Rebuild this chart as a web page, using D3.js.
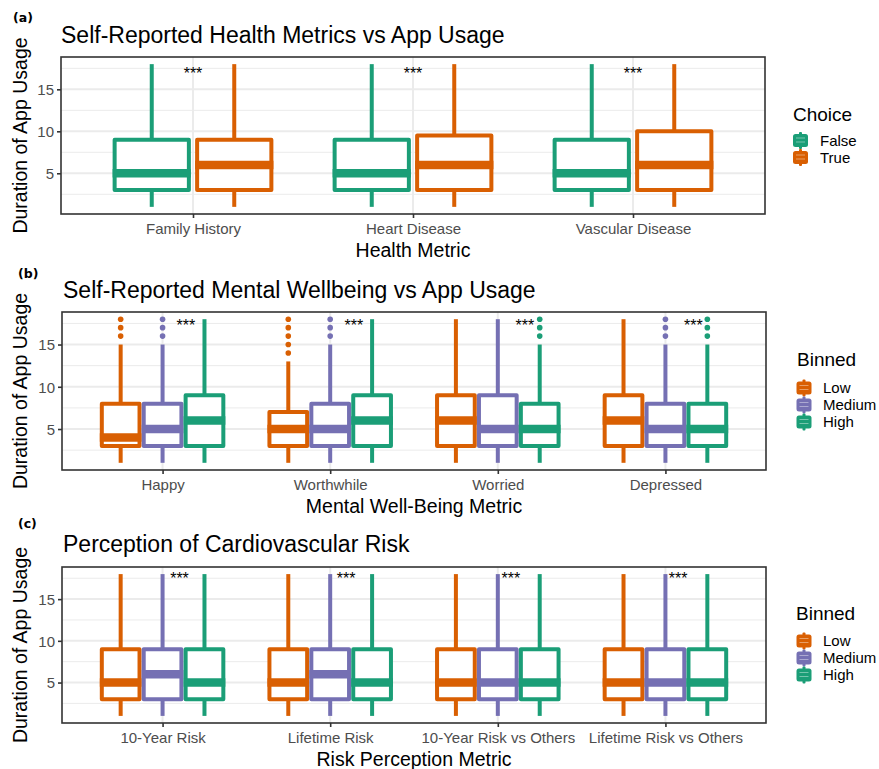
<!DOCTYPE html>
<html>
<head>
<meta charset="utf-8">
<script src="https://cdn.jsdelivr.net/npm/d3@7"></script>
<style>
  body { margin: 0; background: #fff; }
  svg text { font-family: "Liberation Sans", Arial, sans-serif; }
</style>
</head>
<body>
<div id="chart"></div>
<script>
// ---- data ----
// panel (a)
const healthMetrics = ["Family History", "Heart Disease", "Vascular Disease"];
const choiceGroups = ["False", "True"];
const healthLower  = [[1, 1], [1, 1], [1, 1]];
const healthQ1     = [[3, 3], [3, 3], [3, 3]];
const healthMedian = [[5, 6], [5, 6], [5, 6]];
const healthQ3     = [[9, 9], [9, 9.5], [9, 10]];
const healthUpper  = [[18, 18], [18, 18], [18, 18]];
const healthOutliers = [[[], []], [[], []], [[], []]];
const healthStarX = [0, 0, 0];          // offset from category, in category units
const healthStarY = 17.3;

// panel (b)
const mentalMetrics = ["Happy", "Worthwhile", "Worried", "Depressed"];
const binGroups = ["Low", "Medium", "High"];
const mentalLower  = [[1, 1, 1], [1, 1, 1], [1, 1, 1], [1, 1, 1]];
const mentalQ1     = [[3, 3, 3], [3, 3, 3], [3, 3, 3], [3, 3, 3]];
const mentalMedian = [[4, 5, 6], [5, 5, 6], [6, 5, 5], [6, 5, 5]];
const mentalQ3     = [[8, 8, 9], [7, 8, 9], [9, 9, 8], [9, 8, 8]];
const mentalUpper  = [[15, 15, 18], [13, 15, 18], [18, 18, 15], [18, 15, 15]];
const mentalOutliers = [
  [[16, 17, 18], [16, 17, 18], []],
  [[14, 15, 16, 17, 18], [16, 17, 18], []],
  [[], [], [16, 17, 18]],
  [[], [16, 17, 18], [16, 17, 18]]
];
const mentalStarX = [0.139, 0.141, 0.161, 0.167];
const mentalStarY = 17.7;

// panel (c)
const riskMetrics = ["10-Year Risk", "Lifetime Risk", "10-Year Risk vs Others", "Lifetime Risk vs Others"];
const riskLower  = [[1, 1, 1], [1, 1, 1], [1, 1, 1], [1, 1, 1]];
const riskQ1     = [[3, 3, 3], [3, 3, 3], [3, 3, 3], [3, 3, 3]];
const riskMedian = [[5, 6, 5], [5, 6, 5], [5, 5, 5], [5, 5, 5]];
const riskQ3     = [[9, 9, 9], [9, 9, 9], [9, 9, 9], [9, 9, 9]];
const riskUpper  = [[18, 18, 18], [18, 18, 18], [18, 18, 18], [18, 18, 18]];
const riskOutliers = [[[], [], []], [[], [], []], [[], [], []], [[], [], []]];
const riskStarX = [0.101, 0.095, 0.078, 0.076];
const riskStarY = 17.9;

const yTicks = [5, 10, 15];
const yMinor = [2.5, 7.5, 12.5, 17.5];
const yDomain = [0.15, 18.85];

const teal = "#1B9E77", orange = "#D95F02", purple = "#7570B3";

// ---- layout ----
const width = 879, height = 769;
const svg = d3.select("#chart").append("svg")
  .attr("width", width)
  .attr("height", height);

const panels = [
  {
    tag: "(a)", tagX: 13, tagY: 22,
    title: "Self-Reported Health Metrics vs App Usage", titleX: 61, titleY: 43,
    xTitle: "Health Metric", legendTitle: "Choice",
    left: 61, right: 765, top: 57, bottom: 214,
    cats: healthMetrics, groups: choiceGroups, colors: [teal, orange],
    lower: healthLower, q1: healthQ1, median: healthMedian, q3: healthQ3, upper: healthUpper,
    outliers: healthOutliers, starX: healthStarX, starY: healthStarY,
    legX: 793, legTitleY: 120.5, legKeyX: 800.5, legLabelX: 820, legKeyY: 140.5
  },
  {
    tag: "(b)", tagX: 18, tagY: 278,
    title: "Self-Reported Mental Wellbeing vs App Usage", titleX: 63, titleY: 298,
    xTitle: "Mental Well-Being Metric", legendTitle: "Binned",
    left: 62, right: 766, top: 312, bottom: 470,
    cats: mentalMetrics, groups: binGroups, colors: [orange, purple, teal],
    lower: mentalLower, q1: mentalQ1, median: mentalMedian, q3: mentalQ3, upper: mentalUpper,
    outliers: mentalOutliers, starX: mentalStarX, starY: mentalStarY,
    legX: 797, legTitleY: 366, legKeyX: 804, legLabelX: 823, legKeyY: 388
  },
  {
    tag: "(c)", tagX: 18, tagY: 528,
    title: "Perception of Cardiovascular Risk", titleX: 63, titleY: 552,
    xTitle: "Risk Perception Metric", legendTitle: "Binned",
    left: 62, right: 766, top: 567, bottom: 723,
    cats: riskMetrics, groups: binGroups, colors: [orange, purple, teal],
    lower: riskLower, q1: riskQ1, median: riskMedian, q3: riskQ3, upper: riskUpper,
    outliers: riskOutliers, starX: riskStarX, starY: riskStarY,
    legX: 796, legTitleY: 620, legKeyX: 804, legLabelX: 823, legKeyY: 641
  }
];

panels.forEach(drawPanel);

function drawPanel(p) {
  let g = svg.append("g");

  let x = d3.scalePoint().domain(p.cats).range([p.left, p.right]).padding(0.6);
  let y = d3.scaleLinear().domain(yDomain).range([p.bottom, p.top]);
  let step = x.step();
  let slot = 0.75 * step / p.groups.length;
  let boxW = slot * 0.9;
  let gx = (ci, gi) => x(p.cats[ci]) - 0.375 * step + slot * (gi + 0.5);

  // panel background + grid
  g.append("rect")
    .attr("x", p.left).attr("y", p.top)
    .attr("width", p.right - p.left).attr("height", p.bottom - p.top)
    .attr("fill", "#fff");

  g.selectAll(".minor").data(yMinor).enter().append("line")
    .attr("x1", p.left).attr("x2", p.right)
    .attr("y1", d => y(d)).attr("y2", d => y(d))
    .attr("stroke", "#EBEBEB").attr("stroke-width", 1);

  g.selectAll(".major").data(yTicks).enter().append("line")
    .attr("x1", p.left).attr("x2", p.right)
    .attr("y1", d => y(d)).attr("y2", d => y(d))
    .attr("stroke", "#EBEBEB").attr("stroke-width", 2);

  g.selectAll(".vmajor").data(p.cats).enter().append("line")
    .attr("x1", d => x(d)).attr("x2", d => x(d))
    .attr("y1", p.top).attr("y2", p.bottom)
    .attr("stroke", "#EBEBEB").attr("stroke-width", 2);

  // boxes
  let boxes = [];
  p.cats.forEach((c, ci) => {
    p.groups.forEach((grp, gi) => {
      boxes.push({
        cx: gx(ci, gi), color: p.colors[gi],
        lower: p.lower[ci][gi], q1: p.q1[ci][gi], median: p.median[ci][gi],
        q3: p.q3[ci][gi], upper: p.upper[ci][gi], outliers: p.outliers[ci][gi]
      });
    });
  });

  let bg = g.selectAll(".box").data(boxes).enter().append("g");
  let lw = 4;

  bg.append("line")
    .attr("x1", d => d.cx).attr("x2", d => d.cx)
    .attr("y1", d => y(d.q3)).attr("y2", d => y(d.upper))
    .attr("stroke", d => d.color).attr("stroke-width", lw);
  bg.append("line")
    .attr("x1", d => d.cx).attr("x2", d => d.cx)
    .attr("y1", d => y(d.q1)).attr("y2", d => y(d.lower))
    .attr("stroke", d => d.color).attr("stroke-width", lw);

  bg.append("rect")
    .attr("x", d => d.cx - boxW / 2)
    .attr("y", d => y(d.q3))
    .attr("width", boxW)
    .attr("height", d => y(d.q1) - y(d.q3))
    .attr("fill", "#fff")
    .attr("stroke", d => d.color).attr("stroke-width", lw)
    .attr("stroke-linejoin", "round");

  bg.append("line")
    .attr("x1", d => d.cx - boxW / 2 - lw / 2).attr("x2", d => d.cx + boxW / 2 + lw / 2)
    .attr("y1", d => y(d.median)).attr("y2", d => y(d.median))
    .attr("stroke", d => d.color).attr("stroke-width", 8.5);

  bg.selectAll("circle").data(d => d.outliers.map(v => ({ v: v, d: d }))).enter().append("circle")
    .attr("cx", o => o.d.cx).attr("cy", o => y(o.v)).attr("r", 2.8)
    .attr("fill", o => o.d.color);

  // significance stars
  g.selectAll(".star").data(p.cats).enter().append("text")
    .attr("x", (d, i) => x(d) + p.starX[i] * step)
    .attr("y", y(p.starY) + 9.2)
    .attr("text-anchor", "middle")
    .attr("font-size", 16)
    .attr("fill", "#000")
    .text("***");

  // border
  g.append("rect")
    .attr("x", p.left).attr("y", p.top)
    .attr("width", p.right - p.left).attr("height", p.bottom - p.top)
    .attr("fill", "none").attr("stroke", "#333333").attr("stroke-width", 1.6);

  // axes
  let yAxis = g.append("g")
    .attr("transform", "translate(" + p.left + ",0)")
    .call(d3.axisLeft(y).tickValues(yTicks).tickSize(4).tickPadding(3));
  let xAxis = g.append("g")
    .attr("transform", "translate(0," + p.bottom + ")")
    .call(d3.axisBottom(x).tickSize(4).tickPadding(3));
  [xAxis, yAxis].forEach(a => {
    a.select(".domain").remove();
    a.selectAll(".tick line").attr("stroke", "#333333").attr("stroke-width", 1.6);
    a.selectAll(".tick text")
      .attr("fill", "#4D4D4D")
      .attr("font-size", 15)
      .style("font-family", '"Liberation Sans", Arial, sans-serif');
  });
  xAxis.selectAll(".tick text").attr("dy", null).attr("y", 20);
  yAxis.selectAll(".tick text").attr("dy", "0.36em");

  // titles
  g.append("text")
    .attr("x", p.titleX).attr("y", p.titleY)
    .attr("font-size", 23).attr("fill", "#000")
    .text(p.title);

  g.append("text")
    .attr("x", p.tagX).attr("y", p.tagY)
    .attr("font-size", 12.5).attr("font-weight", "bold")
    .style("font-family", '"DejaVu Sans", sans-serif')
    .text(p.tag);

  g.append("text")
    .attr("x", (p.left + p.right) / 2).attr("y", p.bottom + 43)
    .attr("text-anchor", "middle")
    .attr("font-size", 19.5)
    .text(p.xTitle);

  g.append("text")
    .attr("transform", "translate(" + 27 + "," + ((p.top + p.bottom) / 2) + ") rotate(-90)")
    .attr("text-anchor", "middle")
    .attr("font-size", 19.5)
    .text("Duration of App Usage");

  // legend
  let leg = g.append("g");
  leg.append("text")
    .attr("x", p.legX).attr("y", p.legTitleY)
    .attr("font-size", 19)
    .text(p.legendTitle);

  let items = leg.selectAll(".item").data(p.groups).enter().append("g")
    .attr("transform", (d, i) => "translate(" + p.legKeyX + "," + (p.legKeyY + i * 17) + ")");

  items.append("rect")
    .attr("x", -1.5).attr("y", -8.5).attr("width", 3).attr("height", 17)
    .attr("rx", 1)
    .attr("fill", (d, i) => p.colors[i]);
  items.append("rect")
    .attr("x", -7.5).attr("y", -6.5).attr("width", 15).attr("height", 13)
    .attr("rx", 2.5)
    .attr("fill", (d, i) => p.colors[i]);
  items.selectAll(".kl").data([-2.5, 1.5]).enter().append("line")
    .attr("x1", -4.5).attr("x2", 4.5)
    .attr("y1", v => v).attr("y2", v => v)
    .attr("stroke", "#fff").attr("stroke-opacity", 0.4).attr("stroke-width", 1);
  items.append("text")
    .attr("x", p.legLabelX - p.legKeyX).attr("y", 5.4)
    .attr("font-size", 15)
    .text(d => d);
}
</script>
</body>
</html>
